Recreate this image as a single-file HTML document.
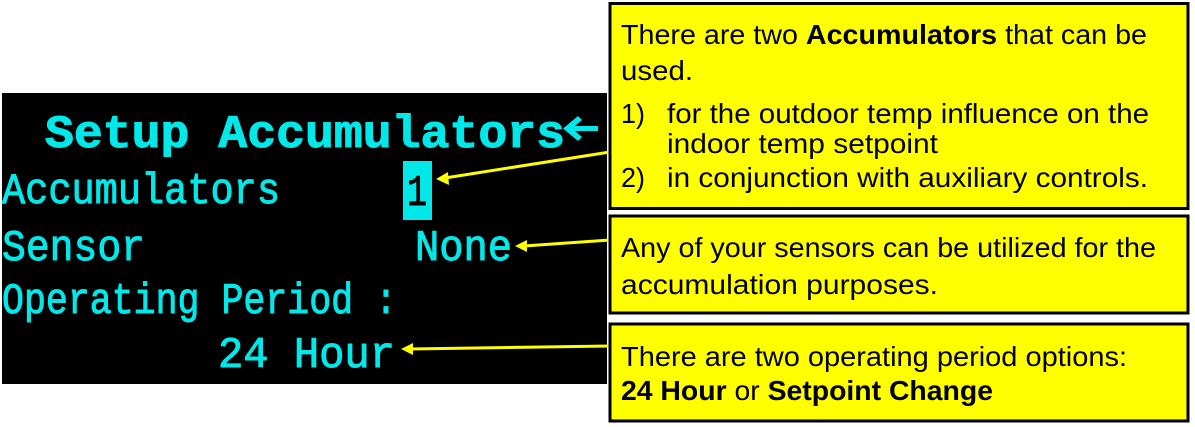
<!DOCTYPE html>
<html><head><meta charset="utf-8"><style>
html,body{margin:0;padding:0;background:#fff;width:1195px;height:427px;overflow:hidden}
svg{display:block}
.c{font-family:"Liberation Mono",monospace;fill:#00e8e8;stroke:#00e8e8;stroke-width:1}
.y{font-family:"Liberation Sans",sans-serif;font-size:28px;fill:#000}
</style></head><body>
<svg width="1195" height="427" viewBox="0 0 1195 427" xmlns="http://www.w3.org/2000/svg">
<rect x="2" y="93" width="605" height="291" fill="#000"/>
<text class="c" x="45" y="147" font-size="46" font-weight="bold" textLength="520" lengthAdjust="spacingAndGlyphs">Setup Accumulators</text>
<g fill="#00e8e8">
<rect x="568" y="126" width="30" height="5"/>
<polygon points="563,128.5 578,116 582,120 572,128.5 582,137 578,141"/>
</g>
<text class="c" x="2" y="203" font-size="44" textLength="278" lengthAdjust="spacingAndGlyphs">Accumulators</text>
<rect x="403" y="161" width="29" height="59" fill="#00e8e8"/>
<text x="407" y="205" font-family="Liberation Mono,monospace" font-size="44" fill="#000" stroke="#000" stroke-width="1" textLength="20" lengthAdjust="spacingAndGlyphs">1</text>
<text class="c" x="2" y="260" font-size="44" textLength="143" lengthAdjust="spacingAndGlyphs">Sensor</text>
<text class="c" x="415" y="260" font-size="44" textLength="97" lengthAdjust="spacingAndGlyphs">None</text>
<text class="c" x="2" y="313" font-size="44" textLength="395" lengthAdjust="spacingAndGlyphs">Operating Period :</text>
<text class="c" x="218" y="367" font-size="44" textLength="177" lengthAdjust="spacingAndGlyphs">24 Hour</text>
<g stroke="#ffff00" stroke-width="3" fill="#ffff00">
<line x1="610" y1="152" x2="445" y2="178"/>
<polygon points="436,179 448,172 449,185" stroke="none"/>
<line x1="610" y1="240" x2="524" y2="246"/>
<polygon points="515,246 527,240 527,252" stroke="none"/>
<line x1="610" y1="346" x2="410" y2="349"/>
<polygon points="401,349 413,343 413,355" stroke="none"/>
</g>
<rect x="610" y="3.5" width="578" height="205" fill="#ffff00" stroke="#000" stroke-width="3"/>
<rect x="610" y="216" width="578" height="97" fill="#ffff00" stroke="#000" stroke-width="3"/>
<rect x="610" y="324" width="578" height="97" fill="#ffff00" stroke="#000" stroke-width="3"/>
<text class="y" x="621" y="44" textLength="526" lengthAdjust="spacingAndGlyphs">There are two <tspan font-weight="bold">Accumulators</tspan> that can be</text>
<text class="y" x="621" y="80" textLength="72" lengthAdjust="spacingAndGlyphs">used.</text>
<text class="y" x="621" y="123" textLength="24" lengthAdjust="spacingAndGlyphs">1)</text>
<text class="y" x="667" y="123" textLength="482" lengthAdjust="spacingAndGlyphs">for the outdoor temp influence on the</text>
<text class="y" x="667" y="153" textLength="271" lengthAdjust="spacingAndGlyphs">indoor temp setpoint</text>
<text class="y" x="621" y="187" textLength="24" lengthAdjust="spacingAndGlyphs">2)</text>
<text class="y" x="667" y="187" textLength="481" lengthAdjust="spacingAndGlyphs">in conjunction with auxiliary controls.</text>
<text class="y" x="621" y="257" textLength="535" lengthAdjust="spacingAndGlyphs">Any of your sensors can be utilized for the</text>
<text class="y" x="621" y="294" textLength="317" lengthAdjust="spacingAndGlyphs">accumulation purposes.</text>
<text class="y" x="621" y="366" textLength="506" lengthAdjust="spacingAndGlyphs">There are two operating period options:</text>
<text class="y" x="621" y="400" textLength="372" lengthAdjust="spacingAndGlyphs"><tspan font-weight="bold">24 Hour</tspan> or <tspan font-weight="bold">Setpoint Change</tspan></text>
</svg>
</body></html>
